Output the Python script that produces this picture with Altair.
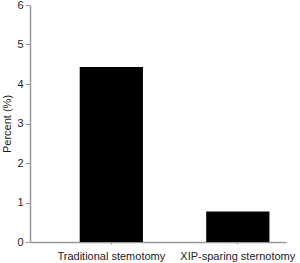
import altair as alt
import pandas as pd

groups = ["Traditional stemotomy", "XIP-sparing sternotomy"]
percents = [4.43, 0.77]
y_ticks = [0, 1, 2, 3, 4, 5, 6]

df = pd.DataFrame({"group": groups, "percent": percents})

chart = alt.Chart(df).mark_bar(color="black").encode(
    x=alt.X("group:N", sort=groups,
            scale=alt.Scale(paddingInner=0.5, paddingOuter=0.262, align=0.75),
            axis=alt.Axis(title=None, labelAngle=0, labelFontSize=11, labelFont="Liberation Sans",
                          labelColor="#222", labelPadding=6, tickSize=2, tickColor="#999",
                          domainColor="#999", domainWidth=1.5)),
    y=alt.Y("percent:Q", scale=alt.Scale(domain=[0, 6], nice=False),
            axis=alt.Axis(title="Percent (%)", values=y_ticks, grid=False, tickSize=5,
                          tickColor="#999", domainColor="#999", domainWidth=1.5,
                          labelFontSize=11, labelFont="Liberation Sans", labelColor="#222",
                          labelPadding=2, titleFontSize=11, titleFont="Liberation Sans",
                          titleFontWeight="normal", titleColor="#222", titlePadding=4)),
).properties(
    width=256, height=237,
    autosize=alt.AutoSizeParams(type="none"),
    padding={"left": 30, "top": 5, "right": 14, "bottom": 21},
).configure_view(stroke=None)

chart.save("out.html", embed_options={"renderer": "svg", "actions": False})
